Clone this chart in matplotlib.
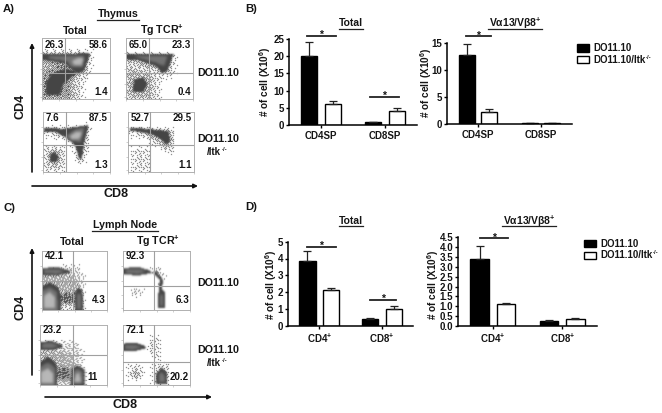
import matplotlib
matplotlib.use("Agg")
import numpy as np
import matplotlib.pyplot as plt
from matplotlib.patches import Rectangle, FancyArrowPatch
from matplotlib.path import Path

plt.rcParams['font.family'] = ['Liberation Sans', 'DejaVu Sans']
plt.rcParams['font.weight'] = 'bold'
plt.rcParams['mathtext.fontset'] = 'custom'
plt.rcParams['mathtext.rm'] = 'Liberation Sans:bold'
plt.rcParams['mathtext.default'] = 'rm'

W, H = 662, 413
fig = plt.figure(figsize=(W / 100, H / 100), dpi=100, facecolor='white')
INK = '#151515'

# ---------- bar chart data ----------
b_total_wt = [20.0, 0.8]
b_total_ko = [6.2, 4.2]
b_total_wt_hi = [24.0, 1.0]
b_total_ko_hi = [6.9, 5.0]
b_tg_wt = [12.8, 0.15]
b_tg_ko = [2.3, 0.1]
b_tg_wt_hi = [14.7, 0.2]
b_tg_ko_hi = [2.7, 0.15]
d_total_wt = [3.85, 0.4]
d_total_ko = [2.1, 1.0]
d_total_wt_hi = [4.45, 0.45]
d_total_ko_hi = [2.27, 1.15]
d_tg_wt = [3.4, 0.27]
d_tg_ko = [1.1, 0.36]
d_tg_wt_hi = [4.05, 0.29]
d_tg_ko_hi = [1.18, 0.4]
sp_labels = ['CD4SP', 'CD8SP']
pos_labels = ['CD4$^{+}$', 'CD8$^{+}$']
ticks_25 = [0, 5, 10, 15, 20, 25]
ticks_15 = [0, 5, 10, 15]
ticks_5 = [0, 1, 2, 3, 4, 5]
ticks_45 = [0.0, 0.5, 1.0, 1.5, 2.0, 2.5, 3.0, 3.5, 4.0, 4.5]

# ---------- flow plot labels ----------
thymus_labels = [
    ('26.3', '58.6', '1.4'), ('65.0', '23.3', '0.4'),
    ('7.6', '87.5', '1.3'), ('52.7', '29.5', '1.1')]
node_labels = [
    ('42.1', '', '4.3'), ('92.3', '', '6.3'),
    ('23.2', '', '11'), ('72.1', '', '20.2')]

# ---------- flow plot regions, outlines in plot fractions ----------
# sparse: stippled event regions (overlaps add up), dark/mid/light: dense cores
A1_sparse = [[(0, .0), (.6, .0), (.62, .3), (.72, .45), (.74, .78), (0, .78)],
             [(0, .0), (.5, .0), (.5, .35), (.66, .45), (.66, .74), (0, .72)],
             [(0, .65), (.3, .5), (.62, .55), (.62, .72), (0, .75)],
             [(.02, .02), (.4, .02), (.42, .3), (.6, .45), (.3, .55), (.02, .45)]]
A1_dark = [[(0, .73), (.3, .74), (.68, .75), (.71, .74), (.62, .46), (.52, .42), (.42, .5), (.34, .58), (.15, .62), (0, .64)],
           [(.06, .06), (.26, .06), (.32, .25), (.42, .34), (.5, .44), (.36, .5), (.14, .42), (.06, .28)]]
A1_mid = [[(.1, .7), (.4, .71), (.62, .71), (.6, .52), (.44, .52), (.36, .62), (.1, .66)]]
A1_light = [[(.44, .62), (.54, .68), (.61, .66), (.58, .55), (.47, .55)]]

A2_sparse = [[(0, .0), (.5, .0), (.5, .3), (.72, .36), (.76, .76), (0, .76)],
             [(.02, .02), (.4, .02), (.4, .42), (.02, .5)],
             [(.02, .6), (.4, .5), (.62, .42), (.68, .72), (.02, .72)]]
A2_dark = [[(0, .73), (.35, .74), (.71, .73), (.62, .46), (.54, .42), (.44, .54), (.2, .63), (0, .65)],
           [(.1, .12), (.26, .12), (.32, .25), (.26, .36), (.12, .32)]]
A2_mid = [[(.1, .71), (.4, .71), (.62, .7), (.57, .54), (.44, .6), (.2, .67)]]
A2_light = []

A3_sparse = [[(.02, .6), (.4, .52), (.5, .15), (.62, .12), (.68, .4), (.72, .78), (.02, .76)],
             [(.02, .02), (.34, .02), (.34, .4), (.02, .44)],
             [(.06, .08), (.26, .08), (.28, .36), (.08, .36)]]
A3_dark = [[(.02, .74), (.3, .72), (.68, .78), (.62, .5), (.58, .22), (.54, .22), (.48, .44), (.36, .56), (.2, .66), (.02, .67)],
           [(.1, .18), (.2, .16), (.24, .26), (.16, .34), (.1, .28)]]
A3_mid = [[(.34, .6), (.5, .72), (.62, .74), (.56, .5), (.42, .52)]]
A3_light = [[(.4, .6), (.5, .67), (.58, .66), (.54, .55), (.43, .55)]]

A4_sparse = [[(.02, .6), (.4, .55), (.55, .34), (.7, .34), (.72, .72), (.02, .76)],
             [(.05, .02), (.34, .02), (.34, .38), (.05, .38)],
             [(.3, .5), (.56, .4), (.66, .45), (.66, .7), (.3, .68)]]
A4_dark = [[(.03, .74), (.3, .72), (.62, .68), (.64, .5), (.58, .46), (.5, .54), (.38, .62), (.2, .66), (.03, .69)]]
A4_mid = []
A4_light = []

C1_sparse = [[(0, 0), (0, .6), (.4, .74), (.6, .72), (.66, .5), (.66, 0)],
             [(0, .4), (.0, .6), (.45, .6), (.6, .4), (.6, .1), (.3, .1)],
             [(.28, .1), (.52, .1), (.52, .28), (.38, .3), (.28, .26)],
             [(.28, .12), (.52, .12), (.52, .26), (.38, .28), (.28, .24)]]
C1_dark = [[(0, .7), (.25, .71), (.42, .66), (.44, .62), (.25, .58), (0, .58)],
           [(0, 0), (0, .4), (.12, .46), (.25, .38), (.29, .25), (.29, 0)],
           [(.5, 0), (.51, .3), (.56, .38), (.62, .32), (.64, .05), (.62, 0)]]
C1_mid = [[(.03, .67), (.25, .68), (.36, .64), (.22, .6), (.03, .61)],
          [(0, 0), (0, .32), (.12, .38), (.23, .3), (.25, 0)],
          [(.54, .02), (.54, .28), (.6, .26), (.6, .02)]]
C1_light = [[(.03, .03), (.03, .24), (.12, .3), (.2, .22), (.2, .03)]]

C2_sparse = [[(.13, .22), (.3, .22), (.3, .36), (.13, .36)],
             [(.4, .68), (.56, .46), (.62, .5), (.6, .7)]]
C2_dark = [[(0, .7), (.25, .71), (.4, .66), (.44, .62), (.25, .58), (0, .59)],
           [(.44, .64), (.55, .5), (.53, .32), (.58, .34), (.6, .5), (.5, .64)],
           [(.52, .03), (.53, .3), (.58, .36), (.63, .28), (.62, .03)]]
C2_mid = [[(.04, .67), (.25, .68), (.35, .64), (.22, .6), (.04, .61)],
          [(.55, .06), (.56, .26), (.6, .26), (.6, .06)]]
C2_light = []

C3_sparse = [[(0, 0), (0, .74), (.55, .72), (.62, .5), (.66, .2), (.66, 0)],
             [(0, .3), (0, .56), (.4, .56), (.55, .35), (.44, .05), (.2, .1)],
             [(.22, .08), (.44, .08), (.44, .28), (.32, .3), (.22, .26)],
             [(.24, .1), (.44, .1), (.44, .26), (.32, .28), (.24, .24)]]
C3_dark = [[(0, .72), (.18, .73), (.32, .67), (.34, .63), (.18, .58), (0, .59)],
           [(0, 0), (0, .38), (.12, .48), (.24, .36), (.26, .24), (.26, 0)],
           [(.44, 0), (.47, .27), (.55, .33), (.65, .26), (.66, 0)]]
C3_mid = [[(.03, .69), (.17, .7), (.28, .65), (.16, .61), (.03, .62)],
          [(0, 0), (0, .3), (.12, .38), (.22, .28), (.23, 0)],
          [(.48, .02), (.5, .24), (.55, .27), (.62, .22), (.63, .02)]]
C3_light = [[(.02, .03), (.02, .22), (.12, .28), (.19, .2), (.19, .03)],
            [(.51, .05), (.52, .18), (.58, .2), (.6, .05)]]

C4_sparse = [[(.08, .08), (.3, .08), (.3, .34), (.08, .34)],
             [(.13, .13), (.24, .13), (.24, .27), (.13, .27)],
             [(.36, .55), (.55, .4), (.55, .8), (.42, .8)],
             [(.45, .02), (.7, .02), (.7, .36), (.45, .36)]]
C4_dark = [[(0, .69), (.2, .7), (.33, .65), (.34, .61), (.15, .56), (0, .57)],
           [(.5, .02), (.49, .18), (.58, .3), (.65, .22), (.65, .02)]]
C4_mid = [[(.03, .66), (.18, .67), (.28, .63), (.14, .59), (.03, .6)],
          [(.53, .05), (.53, .17), (.58, .22), (.62, .15), (.62, .05)]]
C4_light = []

# fixed 8x8 stipple threshold tile
STIPPLE = (np.array([
    [34, 7, 51, 19, 60, 2, 41, 25],
    [13, 46, 28, 0, 37, 55, 16, 63],
    [57, 22, 62, 43, 10, 30, 48, 5],
    [3, 39, 15, 53, 24, 59, 20, 35],
    [49, 26, 33, 6, 45, 1, 42, 11],
    [17, 61, 9, 40, 18, 54, 29, 56],
    [44, 4, 52, 27, 58, 12, 38, 23],
    [31, 47, 21, 36, 8, 50, 14, 32]]) + .5) / 64


def smooth(a, sigma):
    r = int(3 * sigma) + 1
    k = np.exp(-0.5 * (np.arange(-r, r + 1) / sigma) ** 2)
    k /= k.sum()
    p = np.pad(a, r, mode='edge')
    p = np.apply_along_axis(lambda v: np.convolve(v, k, mode='same'), 0, p)
    p = np.apply_along_axis(lambda v: np.convolve(v, k, mode='same'), 1, p)
    return p[r:-r, r:-r]


def mask(polys, xy, shape):
    m = np.zeros(shape)
    for p in polys:
        m += Path(p + [p[0]]).contains_points(xy).reshape(shape)
    return m


def density_image(nx, ny, regions):
    sparse, dark, mid, light = regions
    xs = (np.arange(nx) + .5) / nx
    ys = (np.arange(ny) + .5) / ny
    gx, gy = np.meshgrid(xs, ys)
    xy = np.c_[gx.ravel(), gy.ravel()]
    shape = gx.shape
    tone = np.ones(shape)
    d = smooth(mask(sparse, xy, shape), 1.8) * 0.2
    by = np.indices(shape)
    dots = d > STIPPLE[by[0] % 8, by[1] % 8]
    tone[dots] = 0.3
    for polys, level, sig in ((dark, .27, .8), (mid, .45, 1.3), (light, .72, 1.3)):
        if polys:
            a = np.clip(smooth(np.clip(mask(polys, xy, shape), 0, 1), sig), 0, 1)
            tone = tone * (1 - a) + level * a
    return smooth(tone, .5)


def axes_px(x0, x1, ytop, ybot):
    return fig.add_axes([x0 / W, 1 - ybot / H, (x1 - x0) / W, (ybot - ytop) / H])


def fig_text(x, y, s, size=7.7, **kw):
    kw.setdefault('ha', 'center')
    kw.setdefault('va', 'center')
    return fig.text(x / W, 1 - y / H, s, fontsize=size, color=INK, **kw)


def flow(box, gate_x, gate_y, labels, regions, top_y, low_y, low_x=.985):
    x0, x1, yt, yb = box
    ax = axes_px(x0, x1, yt, yb)
    ax.imshow(density_image(int(x1 - x0), int(yb - yt), regions), cmap='gray', vmin=0, vmax=1,
              extent=(0, 1, 0, 1), origin='lower', aspect='auto', interpolation='bilinear', zorder=1)
    ax.set_xlim(0, 1)
    ax.set_ylim(0, 1)
    ax.set_xticks([.0, .25, .5, .75, 1.0])
    ax.set_yticks([.03, .25, .5, .75])
    ax.tick_params(length=1.5, width=0.4, color='#aaaaaa', labelbottom=False, labelleft=False)
    for s in ax.spines.values():
        s.set_color('#b0b0b0')
        s.set_linewidth(0.7)
    ax.axvline((gate_x - x0) / (x1 - x0), color='#a0a0a0', lw=0.8, zorder=5)
    ax.axhline((yb - gate_y) / (yb - yt), color='#a0a0a0', lw=0.8, zorder=5)
    ul, ur, lr = labels
    kw = dict(fontsize=7, transform=ax.transAxes, va='center', zorder=6, color=INK)
    ax.text(.04, top_y, ul, **kw)
    ax.text(.97, top_y, ur, ha='right', **kw)
    ax.text(low_x, low_y, lr, ha='right', **kw)


def arrow(x0, y0, x1, y1):
    fig.add_artist(FancyArrowPatch(
        (x0 / W, 1 - y0 / H), (x1 / W, 1 - y1 / H), transform=fig.transFigure,
        arrowstyle='-|>', mutation_scale=6, lw=1.2, color='#111111', shrinkA=0, shrinkB=0))


def bars(box, wt, ko, wt_hi, ko_hi, ymax, yticks, xlabels, width, off, label_xy, ticklabels=None):
    x0, x1, yt, yb = box
    ax = axes_px(x0, x1, yt, yb)
    xs = [0, 1]
    ax.bar([x - off for x in xs], wt, width, color='black', edgecolor='black', lw=1.0)
    ax.bar([x + off for x in xs], ko, width, color='white', edgecolor='black', lw=1.0)
    for x, v, h in zip(xs, wt, wt_hi):
        ax.errorbar(x - off, v, yerr=[[0], [h - v]], color='#222222', capsize=2.8, lw=0.9, capthick=0.9)
    for x, v, h in zip(xs, ko, ko_hi):
        ax.errorbar(x + off, v, yerr=[[0], [h - v]], color='#222222', capsize=2.8, lw=0.9, capthick=0.9)
    ax.set_xlim(-.5, 1.5)
    ax.set_ylim(0, ymax)
    ax.set_xticks(xs, xlabels, fontsize=7)
    ax.set_yticks(yticks)
    if ticklabels:
        ax.set_yticklabels(ticklabels)
    ax.tick_params(axis='y', length=2.5, width=1, labelsize=7, pad=1, labelcolor=INK)
    ax.tick_params(axis='x', length=2.5, width=1, pad=1.5, labelcolor=INK)
    ax.spines[['top', 'right']].set_visible(False)
    ax.spines[['left', 'bottom']].set_linewidth(1.1)
    ax.patch.set_alpha(0)
    fig_text(label_xy[0], label_xy[1], '# of cell (X10$^{6}$)', size=7.2, rotation=90)
    return ax


def sig(x0, x1, y):
    fig.add_artist(plt.Line2D([x0 / W, x1 / W], [1 - y / H, 1 - y / H], color='#222222', lw=1.3))
    fig_text((x0 + x1) / 2, y - 0.5, '*', size=7.5)


def underlined(x, y, s, half, size=7.5, uy=5.5):
    fig_text(x, y, s, size=size)
    fig.add_artist(plt.Line2D([(x - half) / W, (x + half) / W], [1 - (y + uy) / H] * 2, color='#222222', lw=0.9))


def itk_label(x, y, s, size, ha='left'):
    t = fig_text(x, y, s, size=size, ha=ha)
    bb = t.get_window_extent(fig.canvas.get_renderer())
    fig.text(bb.x1 / W + 0.5 / W, 1 - (y - 2.5) / H, '-/-', fontsize=size * .62, color=INK, ha='left', va='center')


# ---------- panel letters ----------
fig_text(3, 9, 'A)', size=8.2, ha='left')
fig_text(245, 9, 'B)', size=8.2, ha='left')
fig_text(3, 208, 'C)', size=8.2, ha='left')
fig_text(245, 207, 'D)', size=8.2, ha='left')

# ---------- panel A ----------
underlined(118, 14, 'Thymus', 21, size=7.7)
fig_text(75, 31, 'Total')
fig_text(162, 30, 'Tg TCR$^{+}$')
flow((42, 110, 38, 99), 65, 73, thymus_labels[0], (A1_sparse, A1_dark, A1_mid, A1_light), .885, .11, .975)
flow((126, 193, 38, 99), 149, 73, thymus_labels[1], (A2_sparse, A2_dark, A2_mid, A2_light), .885, .11, .975)
flow((43, 110, 112, 172), 66, 145, thymus_labels[2], (A3_sparse, A3_dark, A3_mid, A3_light), .9, .11, .975)
flow((128, 194, 112, 172), 150, 145, thymus_labels[3], (A4_sparse, A4_dark, A4_mid, A4_light), .9, .11, .975)
fig_text(21, 106, 'CD4', size=9, rotation=90)
arrow(32, 172, 32, 43)
arrow(32, 186, 198, 186)
fig_text(116, 194, 'CD8', size=9)
fig_text(218.5, 73, 'DO11.10')
fig_text(218.5, 139, 'DO11.10')
itk_label(207, 152, '/Itk', 7)

# ---------- panel B ----------
underlined(351, 23, 'Total', 12.5)
underlined(515, 23, 'V\u03b113/V\u03b28$^{+}$', 27)
bars((289, 417, 39, 125), b_total_wt, b_total_ko, b_total_wt_hi, b_total_ko_hi, 25, ticks_25, sp_labels, .255, .19, (265, 82))
bars((447, 572, 42.7, 124), b_tg_wt, b_tg_ko, b_tg_wt_hi, b_tg_ko_hi, 15, ticks_15, sp_labels, .256, .176, (426, 83))
sig(307, 336, 35.5)
sig(370, 399, 96.5)
sig(466, 491, 36)
fig.add_artist(Rectangle((577 / W, 1 - 52 / H), 12 / W, 8 / H, transform=fig.transFigure, fc='black', ec='black', lw=1))
fig.add_artist(Rectangle((577 / W, 1 - 63 / H), 12 / W, 7 / H, transform=fig.transFigure, fc='white', ec='black', lw=1))
fig_text(593, 48, 'DO11.10', size=7, ha='left')
itk_label(593, 60, 'DO11.10/Itk', 7)

# ---------- panel C ----------
underlined(125, 225, 'Lymph Node', 33, size=7.7)
fig_text(72, 242, 'Total')
fig_text(158, 241, 'Tg TCR$^{+}$')
flow((42, 107, 251, 310), 73, 281, node_labels[0], (C1_sparse, C1_dark, C1_mid, C1_light), .91, .17)
flow((123, 190, 251, 310), 154, 286, node_labels[1], (C2_sparse, C2_dark, C2_mid, C2_light), .91, .17)
flow((40, 107, 325, 385), 73, 355, node_labels[2], (C3_sparse, C3_dark, C3_mid, C3_light), .91, .13, .86)
flow((123, 190, 325, 385), 154, 362, node_labels[3], (C4_sparse, C4_dark, C4_mid, C4_light), .91, .13)
fig_text(21, 307, 'CD4', size=9, rotation=90)
arrow(32, 375, 32, 248)
arrow(45, 397, 212, 397)
fig_text(125, 405, 'CD8', size=9)
fig_text(218.5, 283, 'DO11.10')
fig_text(218.5, 350, 'DO11.10')
itk_label(207, 363, '/Itk', 7)

# ---------- panel D ----------
underlined(351, 221, 'Total', 12.5)
underlined(529, 221, 'V\u03b113/V\u03b28$^{+}$', 27)
bars((288, 413, 241.7, 325.7), d_total_wt, d_total_ko, d_total_wt_hi, d_total_ko_hi, 5, ticks_5, pos_labels, .26, .19, (271, 285))
bars((458, 597, 237.3, 326), d_tg_wt, d_tg_ko, d_tg_wt_hi, d_tg_ko_hi, 4.5, ticks_45, pos_labels, .265, .19, (433, 285),
     ticklabels=[f'{t:.1f}' for t in ticks_45])
sig(307, 336, 246.5)
sig(370, 396, 299.5)
sig(480, 508, 238)
fig.add_artist(Rectangle((584 / W, 1 - 247 / H), 12 / W, 7 / H, transform=fig.transFigure, fc='black', ec='black', lw=1))
fig.add_artist(Rectangle((584 / W, 1 - 259 / H), 12 / W, 7 / H, transform=fig.transFigure, fc='white', ec='black', lw=1))
fig_text(600, 243.5, 'DO11.10', size=7, ha='left')
itk_label(600, 255.5, 'DO11.10/Itk', 7)

fig.savefig('out.png', dpi=100)
